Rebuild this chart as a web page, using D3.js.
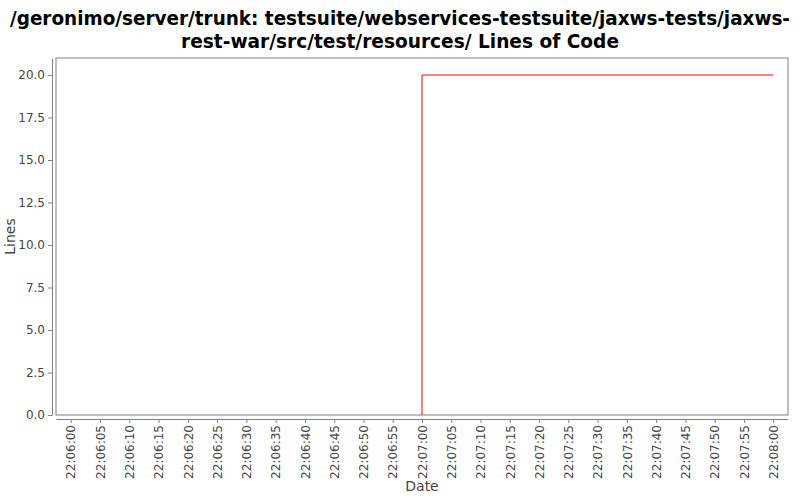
<!DOCTYPE html>
<html><head><meta charset="utf-8">
<script src="https://cdn.jsdelivr.net/npm/d3@7"></script>
<style>body{margin:0;background:#fff}svg{display:block}</style>
</head><body>
<script>
const titleLines = ["/geronimo/server/trunk: testsuite/webservices-testsuite/jaxws-tests/jaxws-", "rest-war/src/test/resources/ Lines of Code"];
const dates = ["22:07:00", "22:07:00", "22:08:00"];
const values = [0, 20, 20];
const yTicks = [0, 2.5, 5, 7.5, 10, 12.5, 15, 17.5, 20];
const xTickLabels = ["22:06:00","22:06:05","22:06:10","22:06:15","22:06:20","22:06:25","22:06:30","22:06:35","22:06:40","22:06:45","22:06:50","22:06:55","22:07:00","22:07:05","22:07:10","22:07:15","22:07:20","22:07:25","22:07:30","22:07:35","22:07:40","22:07:45","22:07:50","22:07:55","22:08:00"];

const W = 800, H = 500;
const L = 56, R = 788, T = 58, B = 415;
const parse = s => { const [h,m,sec] = s.split(":").map(Number); return new Date(2000,0,1,h,m,sec); };
const t0 = parse(xTickLabels[0]), t1 = parse(xTickLabels[xTickLabels.length-1]);
const span = t1 - t0, pad = span * 0.021;

const svg = d3.select("body").append("svg").attr("width", W).attr("height", H);
const x = d3.scaleTime().domain([new Date(+t0 - pad), new Date(+t1 + pad)]).range([L, R]);
const y = d3.scaleLinear().domain([0, 21]).range([B, T]);

const titleW = [780, 438];
svg.append("g").selectAll("text").data(titleLines).join("text")
  .attr("x", W/2).attr("y", (d,i) => 25 + i*23)
  .attr("text-anchor", "middle")
  .attr("font-family", "'DejaVu Sans Condensed', 'DejaVu Sans', sans-serif")
  .attr("font-weight", "bold").attr("font-size", 20).attr("fill", "#000")
  .attr("textLength", (d,i) => titleW[i]).attr("lengthAdjust", "spacingAndGlyphs")
  .text(d => d);

svg.append("rect").attr("x", L).attr("y", T).attr("width", R-L).attr("height", B-T)
  .attr("fill", "#fff").attr("stroke", "#808080").attr("stroke-width", 1);

const yAxis = d3.axisLeft(y).tickValues(yTicks).tickFormat(d3.format(".1f")).tickSize(4).tickSizeOuter(0);
const gy = svg.append("g").attr("transform", `translate(${L-4},0)`).call(yAxis);
gy.select(".domain").attr("stroke", "#808080");
gy.selectAll(".tick line").attr("stroke", "#808080");
gy.selectAll("text").attr("font-family", "'DejaVu Sans', sans-serif").attr("font-size", 12).attr("fill", "#444");

const xAxis = d3.axisBottom(x).tickValues(xTickLabels.map(parse)).tickFormat(d3.timeFormat("%H:%M:%S")).tickSize(4).tickSizeOuter(0);
const gx = svg.append("g").attr("transform", `translate(0,${B+4})`).call(xAxis);
gx.select(".domain").attr("stroke", "#808080");
gx.selectAll(".tick line").attr("stroke", "#808080");
gx.selectAll("text").attr("font-family", "'DejaVu Sans', sans-serif").attr("font-size", 12).attr("fill", "#444")
  .attr("transform", "rotate(-90)").attr("text-anchor", "end").attr("x", -6).attr("y", 0).attr("dy", "0.35em");

svg.append("text").attr("x", (L+R)/2).attr("y", 491).attr("text-anchor", "middle")
  .attr("font-family", "'DejaVu Sans', sans-serif").attr("font-size", 14).attr("fill", "#444").text("Date");
svg.append("text").attr("transform", `translate(15,${(T+B)/2}) rotate(-90)`).attr("text-anchor", "middle")
  .attr("font-family", "'DejaVu Sans', sans-serif").attr("font-size", 14).attr("fill", "#444").text("Lines");

const line = d3.line().x((d,i) => x(parse(dates[i]))).y(d => y(d));
svg.append("path").datum(values).attr("d", line).attr("fill", "none").attr("stroke", "#ff0000").attr("stroke-width", 1);
</script>
</body></html>
